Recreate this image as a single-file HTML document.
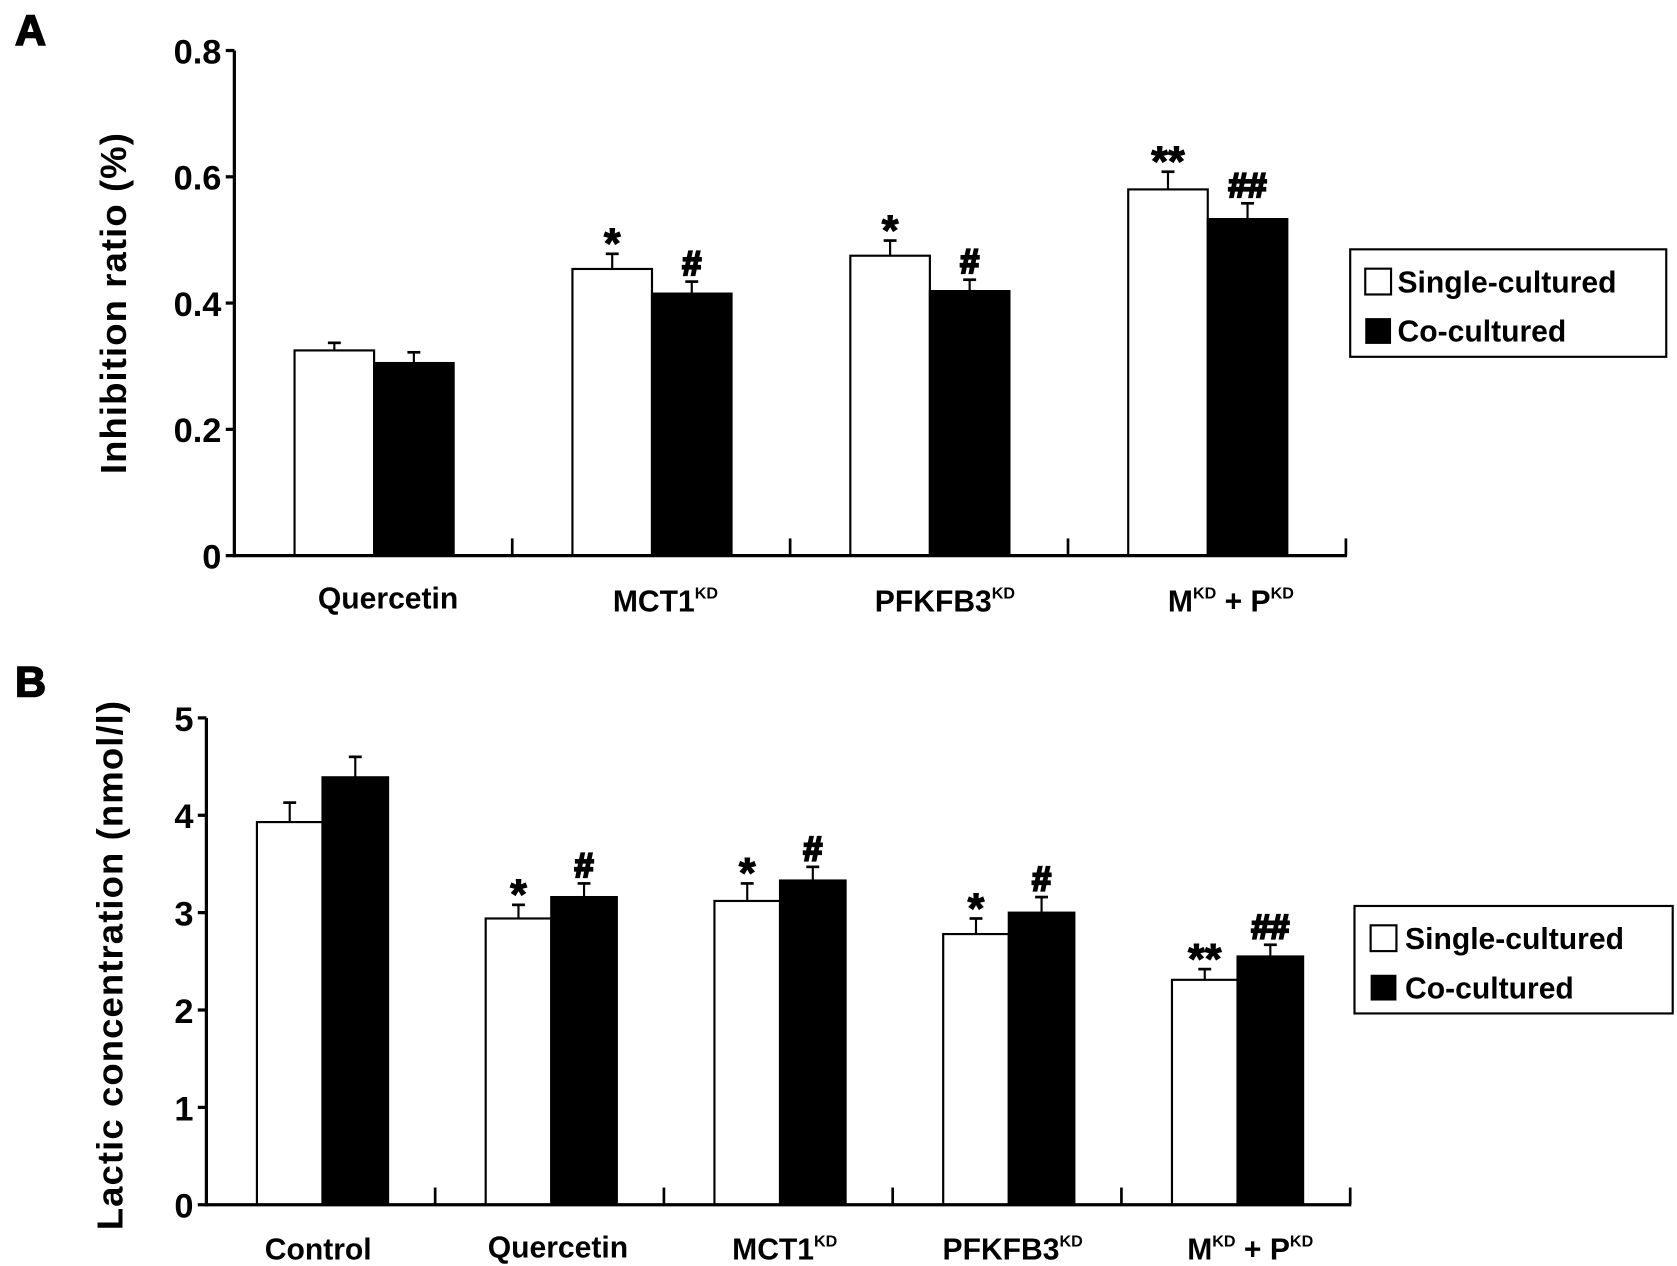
<!DOCTYPE html>
<html><head><meta charset="utf-8"><style>
html,body{margin:0;padding:0;background:#fff;}
svg{display:block;font-family:"Liberation Sans",Arial,sans-serif;font-weight:bold;}
</style></head><body>
<svg id="fig" width="1677" height="1266" viewBox="0 0 1560 1178" preserveAspectRatio="none" xmlns="http://www.w3.org/2000/svg"></svg>
<script>
// Panel A data
const catsA = ["Quercetin","MCT1","PFKFB3","M+P"];
const singleA = [0.325,0.454,0.475,0.580];
const singleErrA = [0.012,0.024,0.024,0.028];
const coA = [0.305,0.415,0.419,0.533];
const coErrA = [0.017,0.019,0.018,0.025];
const marksSA = ["","*","*","**"];
const marksCA = ["","#","#","##"];
const ticksA = [0,0.2,0.4,0.6,0.8];
const tickLabelsA = ["0","0.2","0.4","0.6","0.8"];
// Panel B data
const catsB = ["Control","Quercetin","MCT1","PFKFB3","M+P"];
const singleB = [3.93,2.94,3.12,2.78,2.31];
const singleErrB = [0.20,0.14,0.18,0.16,0.11];
const coB = [4.39,3.16,3.33,3.00,2.55];
const coErrB = [0.21,0.14,0.14,0.16,0.12];
const marksSB = ["","*","*","*","**"];
const marksCB = ["","#","#","#","##"];
const ticksB = [0,1,2,3,4,5];
const tickLabelsB = ["0","1","2","3","4","5"];

const NS="http://www.w3.org/2000/svg";
const svg=document.getElementById('fig');
function mk(tag,attrs,parent){const e=document.createElementNS(NS,tag);for(const k in attrs)e.setAttribute(k,attrs[k]);(parent||svg).appendChild(e);return e;}

function panel(cfg){
  const g=mk('g',{});
  
  
  const y=v=>cfg.y0-(v-cfg.vmin)/(cfg.vmax-cfg.vmin)*(cfg.y0-cfg.yTop);
  const n=cfg.cats.length;
  const gw=(cfg.x1-cfg.x0)/n;
  for(let i=0;i<n;i++){
    const gx=cfg.x0+i*gw;
    const xs=gx+cfg.off, xc=xs+cfg.bw;
    [[cfg.s,cfg.se,xs,'#fff','single',cfg.ms],[cfg.c,cfg.ce,xc,'#000','co',cfg.mc]].forEach(([vals,errs,bx,fill,nm,marks])=>{
      const v=vals[i], top=y(v), et=y(v+errs[i]);
      const mx=bx+cfg.bw/2;
      const el=document.createElementNS(NS,'line');
      
      
      el.setAttribute('x1',mx);el.setAttribute('x2',mx);el.setAttribute('y1',top);el.setAttribute('y2',et);
      el.setAttribute('stroke','#000');el.setAttribute('stroke-width','2');g.appendChild(el);
      const cap=document.createElementNS(NS,'line');
      
      
      cap.setAttribute('x1',mx-6);cap.setAttribute('x2',mx+6);cap.setAttribute('y1',et);cap.setAttribute('y2',et);
      cap.setAttribute('stroke','#000');cap.setAttribute('stroke-width','2.5');g.appendChild(cap);
      const r=document.createElementNS(NS,'rect');
      
      
      r.setAttribute('x',bx);r.setAttribute('y',top);r.setAttribute('width',cfg.bw);r.setAttribute('height',cfg.y0-top);
      r.setAttribute('fill',fill);r.setAttribute('stroke','#000');r.setAttribute('stroke-width','2');g.appendChild(r);
      if(marks[i]){
        const star=marks[i].includes('*');
        const t=document.createElementNS(NS,'text');
        
        
        t.setAttribute('x',mx);t.setAttribute('y',et-(star?-4:6));
        t.setAttribute('text-anchor','middle');t.setAttribute('font-size',star?'40':'32');
        t.setAttribute('stroke','#000');t.setAttribute('stroke-width',star?'1':'2');
        t.textContent=marks[i];g.appendChild(t);
      }
    });
  }
  for(let i=1;i<=n;i++){
    const sx=cfg.x0+i*gw;
    const s=mk('line',{x1:sx,x2:sx,y1:cfg.y0,y2:cfg.y0-16,stroke:'#000','stroke-width':2.5},g);
    
    
  }
  const ya=mk('line',{x1:cfg.x0,x2:cfg.x0,y1:cfg.yTop,y2:cfg.y0+1.5,stroke:'#000','stroke-width':3},g);
  
  
  const xa=mk('line',{x1:cfg.x0,x2:cfg.x1+1,y1:cfg.y0,y2:cfg.y0,stroke:'#000','stroke-width':3},g);
  
  
  cfg.ticks.forEach((v,i)=>{
    const ty=y(v);
    const tk=mk('line',{x1:cfg.x0-8,x2:cfg.x0,y1:ty,y2:ty,stroke:'#000','stroke-width':3},g);
    
    
    const tl=mk('text',{x:cfg.x0-12,y:ty+12,'text-anchor':'end','font-size':32},g);
    
    
    tl.textContent=cfg.tickLabels[i];
  });
}

panel({name:'panel-a-chart',cats:catsA,s:singleA,se:singleErrA,c:coA,ce:coErrA,ms:marksSA,mc:marksCA,
  ticks:ticksA,tickLabels:tickLabelsA,vmin:0,vmax:0.8,x0:218,x1:1252,y0:517,yTop:47,off:56,bw:74});
panel({name:'panel-b-chart',cats:catsB,s:singleB,se:singleErrB,c:coB,ce:coErrB,ms:marksSB,mc:marksCB,
  ticks:ticksB,tickLabels:tickLabelsB,vmin:0,vmax:5,x0:192,x1:1256,y0:1121,yTop:668,off:47,bw:61});
</script>
<svg style="position:absolute;left:0;top:0" width="1677" height="1266" viewBox="0 0 1560 1178" preserveAspectRatio="none" xmlns="http://www.w3.org/2000/svg" font-family="Liberation Sans, Arial, sans-serif" font-weight="bold">
  <text x="14" y="42" font-size="40" stroke="#000" stroke-width="1.5">A</text>
  <text x="14" y="648" font-size="40" stroke="#000" stroke-width="1.5">B</text>
  <text transform="translate(117,282) rotate(-90)" text-anchor="middle" font-size="34" letter-spacing="1">Inhibition ratio (%)</text>
  <text transform="translate(114,898) rotate(-90)" text-anchor="middle" font-size="34" letter-spacing="1">Lactic concentration (nmol/l)</text>
  <g font-size="28" text-anchor="middle">
    <text x="361" y="566">Quercetin</text>
    <text x="619" y="569">MCT1<tspan font-size="15" dy="-12">KD</tspan></text>
    <text x="879" y="569">PFKFB3<tspan font-size="15" dy="-12">KD</tspan></text>
    <text x="1145" y="569">M<tspan font-size="15" dy="-12">KD</tspan><tspan dy="12"> + P</tspan><tspan font-size="15" dy="-12">KD</tspan></text>
    <text x="296" y="1172">Control</text>
    <text x="519" y="1170">Quercetin</text>
    <text x="730" y="1172">MCT1<tspan font-size="15" dy="-12">KD</tspan></text>
    <text x="942" y="1172">PFKFB3<tspan font-size="15" dy="-12">KD</tspan></text>
    <text x="1163" y="1172">M<tspan font-size="15" dy="-12">KD</tspan><tspan dy="12"> + P</tspan><tspan font-size="15" dy="-12">KD</tspan></text>
  </g>
  <g>
    <rect x="1256" y="232" width="294" height="100" fill="#fff" stroke="#000" stroke-width="2"/>
    <rect x="1270" y="250" width="24" height="24" fill="#fff" stroke="#000" stroke-width="2"/>
    <text x="1300" y="272" font-size="28">Single-cultured</text>
    <rect x="1270" y="296" width="24" height="24" fill="#000"/>
    <text x="1300" y="318" font-size="28">Co-cultured</text>
  </g>
  <g>
    <rect x="1260" y="843" width="296" height="100" fill="#fff" stroke="#000" stroke-width="2"/>
    <rect x="1275" y="861" width="24" height="24" fill="#fff" stroke="#000" stroke-width="2"/>
    <text x="1307" y="883" font-size="28">Single-cultured</text>
    <rect x="1275" y="907" width="24" height="24" fill="#000"/>
    <text x="1307" y="929" font-size="28">Co-cultured</text>
  </g>
</svg>
</body></html>
